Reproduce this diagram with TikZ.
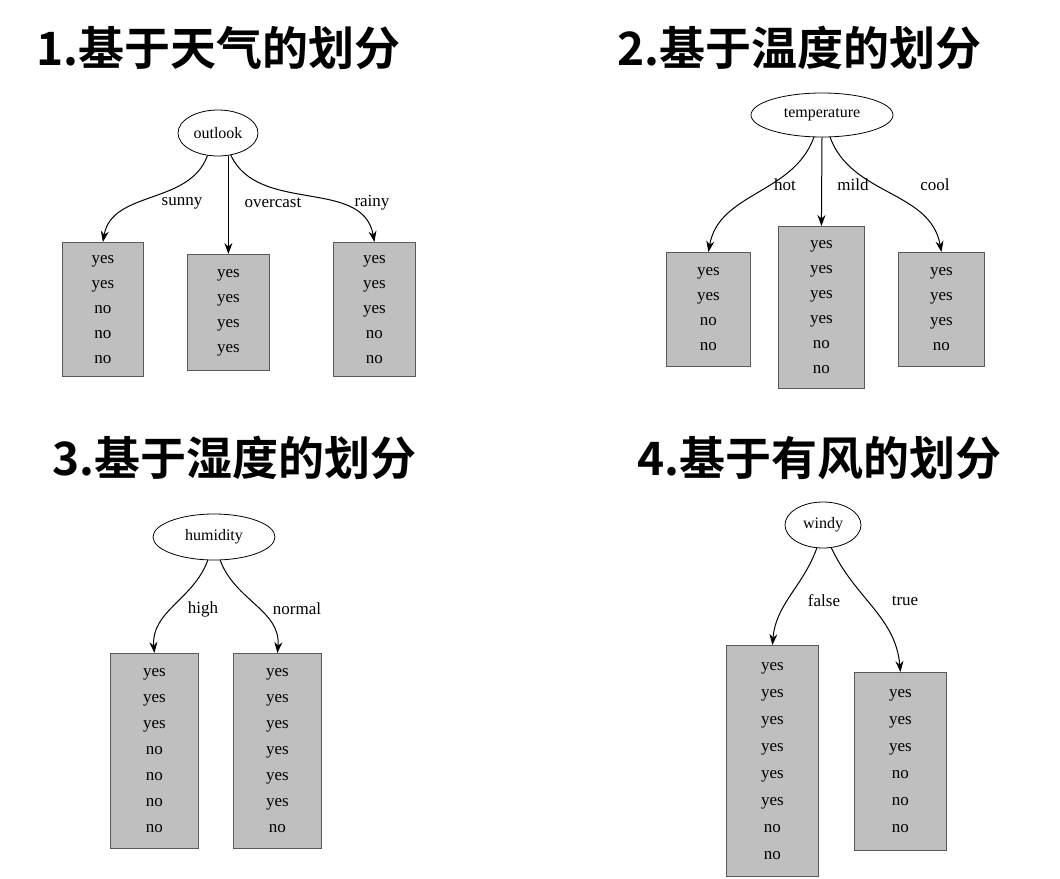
\documentclass[tikz,border=0pt]{standalone}
\usepackage{fontspec}
\setmainfont{Liberation Serif}
\newfontfamily\cjk{Noto Sans CJK SC Bold}
\usetikzlibrary{shapes.geometric,arrows.meta}
\begin{document}
\begin{tikzpicture}[x=1pt,y=-1pt,
  title/.style={font=\cjk\fontsize{46}{50}\selectfont, anchor=west, inner sep=0},
  ell/.style={draw, ellipse, line width=0.8pt, inner sep=0, font=\fontsize{16}{18}\selectfont},
  box/.style={draw=gray!70!black, fill=black!25, line width=0.8pt, anchor=north west, align=center, inner sep=0, font=\fontsize{17}{25}\selectfont},
  lab/.style={font=\fontsize{17}{20}\selectfont, inner sep=0},
  arr/.style={-{Stealth[length=11pt,width=8pt]}, line width=1pt}]
\useasboundingbox (0,0) rectangle (1060,878);
\fill[white] (0,0) rectangle (1060,878);

\node[title] (t1) at (36,48) {1.基于天气的划分};
\node[title] (t2) at (617,48) {2.基于温度的划分};
\node[title] (t3) at (52,458) {3.基于湿度的划分};
\node[title] (t4) at (637,458) {4.基于有风的划分};

% panel 1
\node[ell, minimum width=80, minimum height=46] (e1) at (218,133) {outlook};
\node[box, minimum width=81, minimum height=134] (b11) at (62,242) {yes\\yes\\no\\no\\no};
\node[box, minimum width=82, minimum height=116] (b12) at (187,254) {yes\\yes\\yes\\yes};
\node[box, minimum width=82, minimum height=134] (b13) at (333,242) {yes\\yes\\yes\\no\\no};
\draw[arr] (e1.245) to[out=250,in=80] (b11.north);
\draw[arr] (e1.south -| b12.north) -- (b12.north);
\draw[arr] (e1.300) to[out=-65,in=100] (b13.north);
\node[lab] (l11) at (182,203) {sunny};
\node[lab] (l12) at (273,203) {overcast};
\node[lab] (l13) at (372,203) {rainy};

% panel 2
\node[ell, minimum width=142, minimum height=44] (e2) at (822,115) {temperature};
\node[box, minimum width=84, minimum height=114] (b21) at (666,252) {yes\\yes\\no\\no};
\node[box, minimum width=86, minimum height=162] (b22) at (778,226) {yes\\yes\\yes\\yes\\no\\no};
\node[box, minimum width=86, minimum height=114] (b23) at (898,252) {yes\\yes\\yes\\no};
\draw[arr] (e2.250) to[out=250,in=80] (b21.north);
\draw[arr] (e2.south) -- (b22.north);
\draw[arr] (e2.290) to[out=-70,in=100] (b23.north);
\node[lab] (l21) at (785,185) {hot};
\node[lab] (l22) at (853,185) {mild};
\node[lab] (l23) at (935,185) {cool};

% panel 3
\node[ell, minimum width=122, minimum height=46] (e3) at (214,537) {humidity};
\node[box, minimum width=88, minimum height=195, font=\fontsize{17}{26}\selectfont] (b31) at (110,653) {yes\\yes\\yes\\no\\no\\no\\no};
\node[box, minimum width=88, minimum height=195, font=\fontsize{17}{26}\selectfont] (b32) at (233,653) {yes\\yes\\yes\\yes\\yes\\yes\\no};
\draw[arr] (e3.255) to[out=250,in=95] (b31.north);
\draw[arr] (e3.285) to[out=-70,in=85] (b32.north);
\node[lab] (l31) at (203,609) {high};
\node[lab] (l32) at (297,609) {normal};

% panel 4
\node[ell, minimum width=76, minimum height=46] (e4) at (823,525) {windy};
\node[box, minimum width=92, minimum height=231, font=\fontsize{17}{27}\selectfont] (b41) at (726,645) {yes\\yes\\yes\\yes\\yes\\yes\\no\\no};
\node[box, minimum width=92, minimum height=178, font=\fontsize{17}{27}\selectfont] (b42) at (854,672) {yes\\yes\\yes\\no\\no\\no};
\draw[arr] (e4.255) to[out=250,in=85] (b41.north);
\draw[arr] (e4.290) to[out=-65,in=95] (b42.north);
\node[lab] (l41) at (824,601) {false};
\node[lab] (l42) at (905,601) {true};
\end{tikzpicture}
\end{document}
